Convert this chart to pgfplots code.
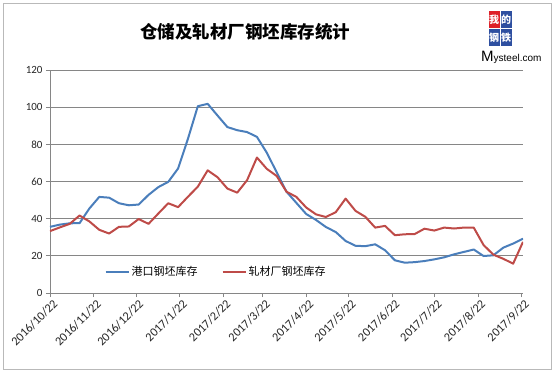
\documentclass[border=0pt]{standalone}
\usepackage{pgfplots}
\usepackage{pgfplotstable}
\pgfplotsset{compat=1.18}
\usepackage{fontspec}
\setmainfont{Carlito}
\newfontfamily\cjk{Noto Sans CJK SC}
\newfontfamily\lib{Liberation Sans}
\definecolor{sblue}{RGB}{74,126,187}
\definecolor{sred}{RGB}{190,75,72}
\definecolor{gridc}{RGB}{134,134,134}
\definecolor{logored}{RGB}{222,32,40}
\definecolor{logoblue}{RGB}{46,79,160}
\pgfplotstableread{
x blue red
0 35.6 33.3
7 36.8 35.3
14 37.5 37.2
21 37.6 41.7
28 45.5 38.5
35 51.7 34.0
42 51.3 32.0
49 48.3 35.6
56 47.2 35.8
63 47.6 39.8
70 52.8 37.2
77 57.0 42.8
84 59.8 48.3
91 67.0 46.2
98 83.0 51.8
105 100.5 57.2
112 101.8 66.0
119 95.5 62.3
126 89.3 56.2
133 87.6 54.0
140 86.6 60.7
147 84.0 72.9
154 75.5 66.8
161 65.0 63.0
168 54.5 54.5
175 48.5 51.7
182 42.5 46.0
189 39.3 42.3
196 35.5 40.9
203 32.8 43.5
210 28.0 50.8
217 25.4 44.2
224 25.2 41.0
231 26.2 35.2
238 23.0 36.1
245 17.6 31.1
252 16.3 31.6
259 16.6 31.7
266 17.2 34.6
273 18.1 33.6
280 19.2 35.2
287 20.8 34.7
294 22.1 35.2
301 23.4 35.2
308 19.9 25.8
315 20.3 20.6
322 24.4 18.4
329 26.6 15.8
336 29.2 27.5
}\datatab
\begin{document}
\begin{tikzpicture}
\path[use as bounding box] (0,0) rectangle (557bp,374bp);
\draw[gray!55, line width=0.8bp] (3bp,5bp) rectangle (551bp,371bp);
\node[font=\fontsize{17.5bp}{20bp}\cjk\bfseries] at (245bp,342bp) {仓储及轧材厂钢坯库存统计};
% logo
\node[fill=logored, text=white, minimum width=11bp, minimum height=17bp, inner sep=0pt, font=\fontsize{10bp}{11bp}\cjk\bfseries] at (494bp,354bp) {我};
\node[fill=logoblue, text=white, minimum width=11bp, minimum height=17bp, inner sep=0pt, font=\fontsize{10bp}{11bp}\cjk\bfseries] at (506bp,354bp) {的};
\node[fill=logoblue, text=white, minimum width=11bp, minimum height=17bp, inner sep=0pt, font=\fontsize{10bp}{11bp}\cjk\bfseries] at (494bp,336bp) {钢};
\node[fill=logoblue, text=white, minimum width=11bp, minimum height=17bp, inner sep=0pt, font=\fontsize{10bp}{11bp}\cjk\bfseries] at (506bp,336bp) {铁};
\node[inner sep=0pt, anchor=base west] at (481bp,312bp) {\lib\fontsize{15bp}{16bp}\selectfont M\fontsize{10bp}{11bp}\selectfont ysteel.com};
\begin{axis}[
  at={(50bp,81bp)}, anchor=south west,
  scale only axis, width=473bp, height=223bp,
  xmin=0, xmax=336, ymin=0, ymax=120,
  ytick={0,20,...,120},
  xtick={0,31,61,92,123,151,182,212,243,273,304,335},
  xticklabels={2016/10/22,2016/11/22,2016/12/22,2017/1/22,2017/2/22,2017/3/22,2017/4/22,2017/5/22,2017/6/22,2017/7/22,2017/8/22,2017/9/22},
  axis x line*=bottom, axis y line*=left,
  ymajorgrids, grid style={gridc, line width=0.7bp},
  axis line style={gridc, line width=0.8bp},
  tick style={gridc, line width=0.7bp},
  tick align=outside, major tick length=4bp,
  /pgf/number format/assume math mode=true,
  yticklabel style={font=\fontsize{11bp}{13bp}\selectfont, text=black!85},
  xticklabel style={font=\fontsize{12.3bp}{14bp}\selectfont, text=black!85, rotate=45, anchor=north east, inner sep=2.5pt, xshift=3bp},
  legend style={at={(0.351,0.094)}, anchor=center, draw=none, fill=none,
    font=\fontsize{11bp}{13bp}\cjk, legend columns=2,
    /tikz/every even column/.append style={column sep=22bp}},
  legend image code/.code={\draw[#1] plot coordinates {(0bp,0bp) (23bp,0bp)};},
]
\addplot[sblue, line width=2bp, line join=round] table[x=x, y=blue] {\datatab};
\addlegendentry{港口钢坯库存}
\addplot[sred, line width=2bp, line join=round] table[x=x, y=red] {\datatab};
\addlegendentry{轧材厂钢坯库存}
\end{axis}
\end{tikzpicture}
\end{document}
